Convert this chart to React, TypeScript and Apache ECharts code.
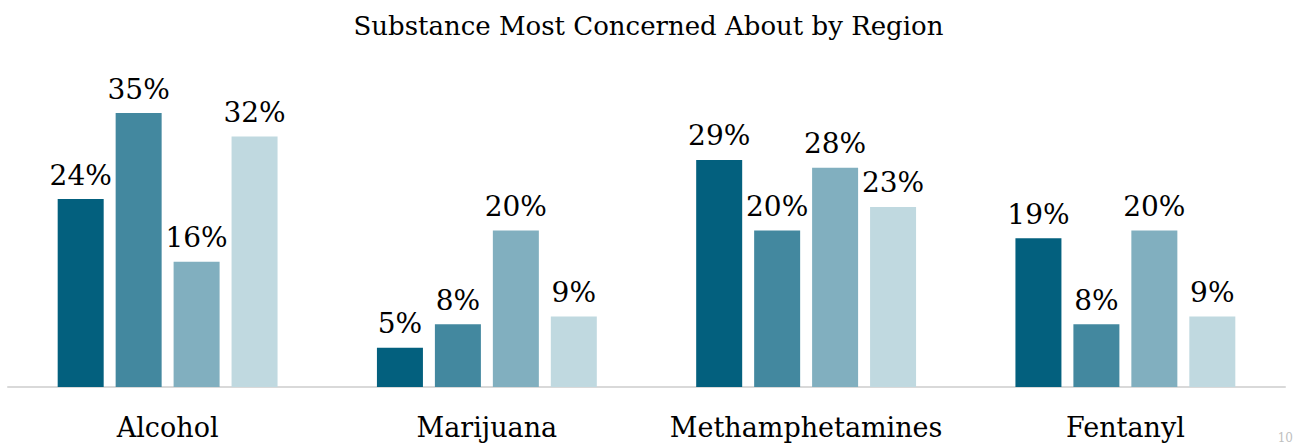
import React, { useEffect, useRef } from "react";
import * as echarts from "echarts";

const categories = ["Alcohol", "Marijuana", "Methamphetamines", "Fentanyl"];
const seriesNames = ["Region 1", "Region 2", "Region 3", "Region 4"];
const region1 = [24, 5, 29, 19];
const region2 = [35, 8, 20, 8];
const region3 = [16, 20, 28, 20];
const region4 = [32, 9, 23, 9];
const colors = ["#03607E", "#43889F", "#81AFBF", "#C0D9E0"];
const FONT = "DejaVu Serif";

export default function App() {
  const ref = useRef<HTMLDivElement>(null);
  useEffect(() => {
    document.body.style.margin = "0";
    const chart = echarts.init(ref.current!, null, { renderer: "svg" });
    const data = [region1, region2, region3, region4];
    chart.setOption({
      animation: false,
      title: {
        text: "Substance Most Concerned About by Region",
        left: "center",
        top: 8,
        textStyle: { fontFamily: FONT, fontSize: 26, fontWeight: "normal", color: "#000" },
      },
      grid: { left: 8, right: 12, top: 77, bottom: 57 },
      xAxis: {
        type: "category",
        data: categories,
        axisLine: { lineStyle: { color: "#D9D9D9", width: 2 } },
        axisTick: { show: false },
        axisLabel: { interval: 0, fontFamily: FONT, fontSize: 27, color: "#000", margin: 27 },
      },
      yAxis: { type: "value", min: 0, max: 39.6, show: false, splitLine: { show: false } },
      series: data.map((d, i) => ({
        name: seriesNames[i],
        type: "bar",
        data: d,
        barWidth: 46,
        barGap: "26%",
        itemStyle: { color: colors[i] },
        label: {
          show: true,
          position: "top",
          distance: 10,
          formatter: "{c}%",
          fontFamily: FONT,
          fontSize: 28,
          color: "#000",
        },
      })),
      graphic: [
        { type: "text", right: 4, bottom: 0, style: { text: "10", fontFamily: FONT, fontSize: 12, fill: "#BFBFBF" } },
      ],
    });
    return () => chart.dispose();
  }, []);
  return <div ref={ref} style={{ width: 1297, height: 444 }} />;
}
